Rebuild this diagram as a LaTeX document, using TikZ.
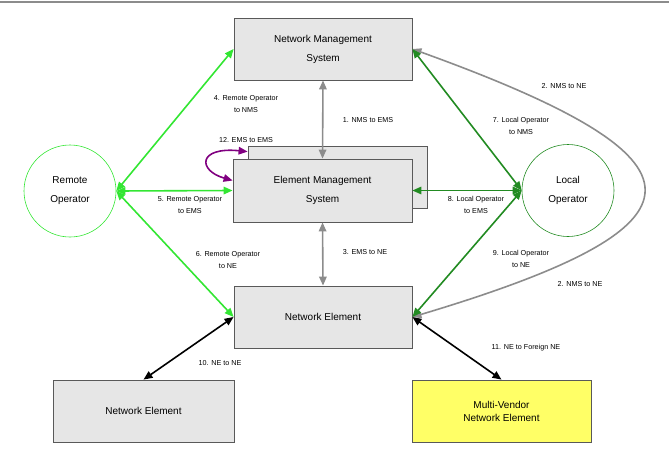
\documentclass[tikz,border=0pt]{standalone}
\usepackage{fontspec}
\setmainfont{Liberation Sans}
\usepackage{tikz}
\usetikzlibrary{arrows.meta,positioning,shapes.geometric,calc}

\definecolor{boxgray}{RGB}{230,230,230}
\definecolor{linkgray}{RGB}{140,140,140}
\definecolor{ropgreen}{RGB}{51,230,51}
\definecolor{lopgreen}{RGB}{34,139,34}
\definecolor{mvyellow}{RGB}{255,255,102}
\definecolor{emspurple}{RGB}{128,0,128}

\begin{document}
\begin{tikzpicture}[
  x=1pt, y=-1pt,
  font=\fontsize{10}{19}\selectfont,
  >={Triangle[length=9pt,width=7.5pt]},
  sysbox/.style={draw=black!65, line width=0.8pt, fill=boxgray, minimum width=178pt, minimum height=62pt, align=center, inner sep=2pt},
  opcircle/.style={circle, minimum size=92pt, align=center, line width=0.6pt},
  lbl/.style={font=\fontsize{7.2}{12.5}\selectfont, align=center, inner sep=1pt},
  arr/.style={<->, line width=1.6pt}
]
\useasboundingbox (0,0) rectangle (669,453);
\draw[linkgray, line width=2pt] (0,1.5) -- (669,1.5);

% systems
\node[sysbox] (nms) at (323,49) {Network Management\\System};
\node[sysbox, minimum width=179pt] (emsb) at (337.5,177) {};
\node[sysbox, minimum width=179pt, minimum height=63pt] (ems) at (322.5,190.5) {Element Management\\System};
\node[sysbox] (ne) at (323,317) {Network Element};
\node[sysbox, minimum width=181pt] (ne2) at (143.5,411) {Network Element};
\node[sysbox, minimum width=179pt, fill=mvyellow, font=\fontsize{10}{13}\selectfont] (mv) at (501.5,411) {Multi-Vendor\\Network Element};

% operators
\node[opcircle, draw=ropgreen] (rop) at (70,191) {Remote\\Operator};
\node[opcircle, draw=lopgreen] (lop) at (568,190.5) {Local\\Operator};

% links
\draw[arr, linkgray] (nms.south) -- (ems.north);
\draw[arr, linkgray] (ems.south) -- (ne.north);
\draw[arr, linkgray] (nms.east) .. controls (720,160) and (720,225) .. (ne.east);
\draw[arr, ropgreen] (rop.east) -- (nms.west);
\draw[arr, ropgreen] (rop.east) -- (ems.west);
\draw[arr, ropgreen] (rop.east) -- (ne.west);
\draw[arr, lopgreen] (lop.west) -- (nms.east);
\draw[arr, lopgreen] (lop.west) -- (ems.east);
\draw[arr, lopgreen] (lop.west) -- (ne.east);
\draw[arr, black] (ne.west) -- (ne2.north);
\draw[arr, black] (ne.east) -- (mv.north);
\draw[arr, emspurple] ([yshift=-6pt]emsb.north west) .. controls +(-50,-5) and +(-35,-10) .. ([yshift=10pt]ems.west);

% labels
\node[lbl] (l1) at (368,120) {1. NMS to EMS};
\node[lbl] (l2a) at (564,86) {2. NMS to NE};
\node[lbl] (l2b) at (580,284) {2. NMS to NE};
\node[lbl] (l3) at (365,252) {3. EMS to NE};
\node[lbl] (l4) at (246,104) {4. Remote Operator\\to NMS};
\node[lbl] (l5) at (190,205) {5. Remote Operator\\to EMS};
\node[lbl] (l6) at (228,260) {6. Remote Operator\\to NE};
\node[lbl] (l7) at (521,126) {7. Local Operator\\to NMS};
\node[lbl] (l8) at (476,205) {8. Local Operator\\to EMS};
\node[lbl] (l9) at (521,259) {9. Local Operator\\to NE};
\node[lbl] (l10) at (220,363) {10. NE to NE};
\node[lbl] (l11) at (526,348) {11. NE to Foreign NE};
\node[lbl] (l12) at (246,140) {12. EMS to EMS};
\end{tikzpicture}
\end{document}
